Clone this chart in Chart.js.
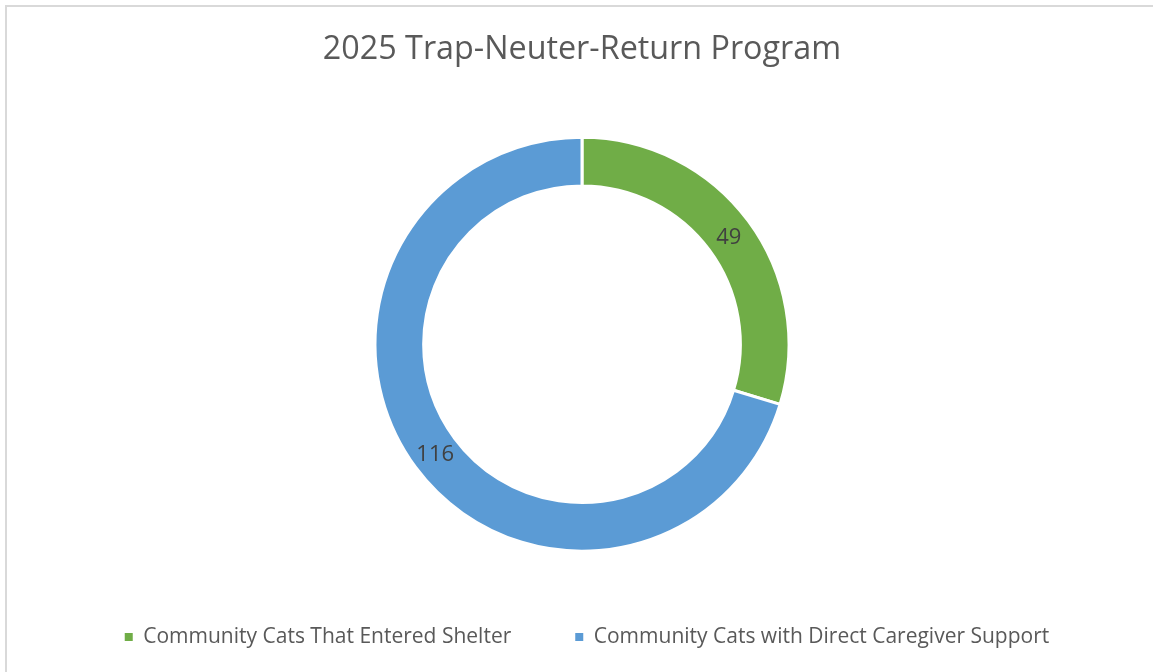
<!DOCTYPE html>
<html>
<head>
<meta charset="utf-8">
<script src="https://cdn.jsdelivr.net/npm/chart.js@4/dist/chart.umd.min.js"></script>
<style>
  html, body { margin: 0; padding: 0; background: #ffffff; }
  #wrap { position: relative; width: 1153px; height: 672px; overflow: hidden; }
  #frame { position: absolute; left: 5px; top: 5px; width: 1200px; height: 700px;
           border-top: 2px solid #d9d9d9; border-left: 2px solid #d9d9d9; }
  canvas { position: absolute; left: 0; top: 0; }
</style>
</head>
<body>
<div id="wrap">
  <div id="frame"></div>
  <canvas id="c" width="1153" height="672"></canvas>
</div>
<script>
const titleText = "2025 Trap-Neuter-Return Program";
const categories = ["Community Cats That Entered Shelter", "Community Cats with Direct Caregiver Support"];
const values = [49, 116];
const sliceColors = ["#70AD47", "#5B9BD5"];

const FONT = "'Open Sans', 'Liberation Sans', sans-serif";

const dataLabels = {
  id: 'dataLabels',
  afterDatasetsDraw(chart) {
    const ctx = chart.ctx;
    const meta = chart.getDatasetMeta(0);
    ctx.save();
    ctx.font = "22px " + FONT;
    ctx.fillStyle = "#404040";
    ctx.textAlign = "center";
    ctx.textBaseline = "middle";
    meta.data.forEach((arc, i) => {
      const p = arc.tooltipPosition();
      ctx.fillText(String(chart.data.datasets[0].data[i]), p.x, p.y + 2);
    });
    ctx.restore();
  }
};

const legendShift = {
  id: 'legendShift',
  afterLayout(chart) {
    if (chart.legend) { chart.legend.left += 5; chart.legend.right += 5; }
  }
};

const baseGen = Chart.overrides.doughnut.plugins.legend.labels.generateLabels;

new Chart(document.getElementById('c'), {
  type: 'doughnut',
  data: {
    labels: categories,
    datasets: [{
      data: values,
      backgroundColor: sliceColors,
      borderColor: "#ffffff",
      borderWidth: 3,
      hoverOffset: 0
    }]
  },
  options: {
    responsive: false,
    animation: false,
    devicePixelRatio: 1,
    cutout: '76.5%',
    radius: 207,
    layout: { padding: { left: 11, right: 0, top: 0, bottom: 14.5 } },
    plugins: {
      tooltip: { enabled: false },
      title: {
        display: true,
        text: titleText,
        color: "#595959",
        font: { family: FONT, size: 32.3, weight: 'normal', lineHeight: 1.2 },
        padding: { top: 30.6, bottom: 56.6 }
      },
      legend: {
        display: true,
        position: 'bottom',
        labels: {
          color: "#595959",
          font: { family: FONT, size: 21 },
          boxWidth: 8,
          boxHeight: 8,
          padding: 64,
          generateLabels(chart) {
            return baseGen(chart).map(l => Object.assign(l, { lineWidth: 0, strokeStyle: 'rgba(0,0,0,0)' }));
          }
        }
      }
    }
  },
  plugins: [dataLabels, legendShift]
});
</script>
</body>
</html>
